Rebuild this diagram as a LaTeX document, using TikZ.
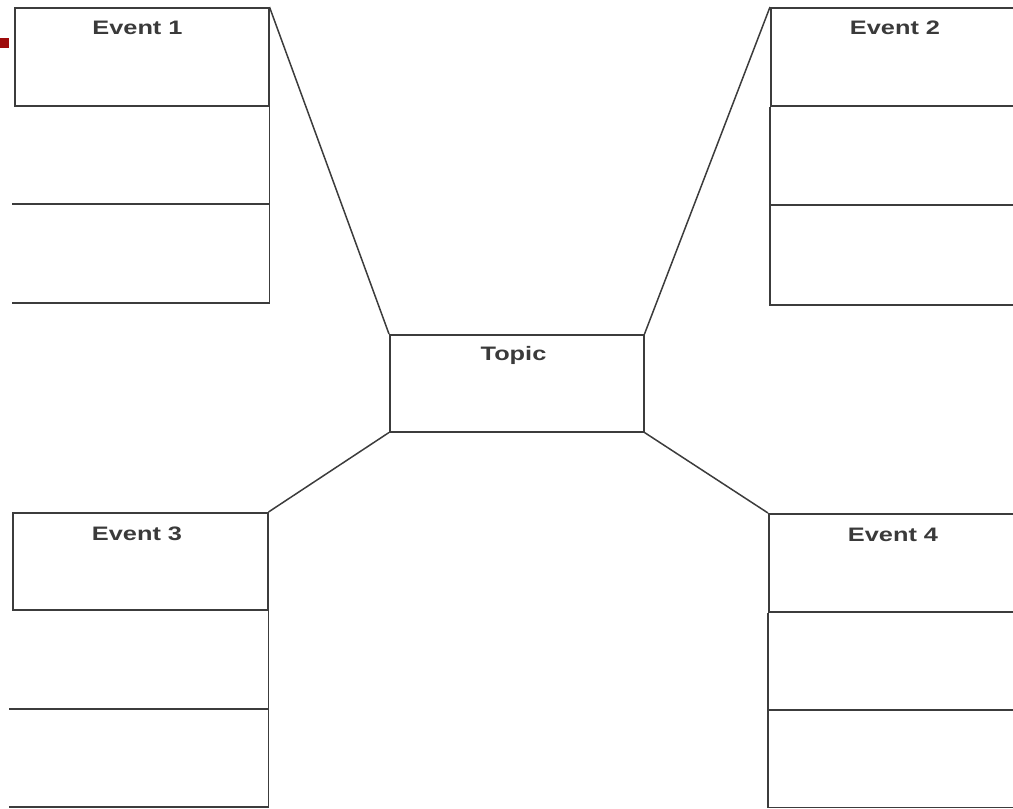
\documentclass[tikz,border=0pt]{standalone}
\usepackage{fontspec}
\setmainfont{Liberation Sans}
\definecolor{ink}{HTML}{3C3C3C}
\definecolor{txt}{HTML}{3A3A3A}
\definecolor{redmark}{HTML}{9E0B0B}
\begin{document}
\begin{tikzpicture}[x=1pt,y=-1pt,
  ln/.style={draw=ink,line width=1.5pt},
  box/.style={ln,rectangle,inner sep=0pt,anchor=north west},
  lbl/.style={text=txt,inner sep=0pt,anchor=base,font=\fontsize{19.5}{22}\selectfont\bfseries}]
\useasboundingbox (0,0) rectangle (1013,809);
\clip (0,0) rectangle (1013,809);
\fill[fill=redmark] (0,38) rectangle (9,48);
% Event 1
\node[box,minimum width=254pt,minimum height=98pt] (e1) at (14,7) {};
\node[lbl] (l1) at (137.5,34.3) {\scalebox{1.3}[1]{Event 1}};
\coordinate (e1a) at (12,204); \coordinate (e1b) at (12,303);
\draw[ln] (e1.south east) -- (e1.east |- e1b) -- (e1b);
\draw[ln] (e1a) -- (e1.east |- e1a);
% Event 2
\node[box,minimum width=260pt,minimum height=98pt] (e2) at (770,7) {};
\node[lbl] (l2) at (895,34.3) {\scalebox{1.3}[1]{Event 2}};
\coordinate (e2a) at (1020,205); \coordinate (e2b) at (1020,305);
\draw[ln] (e2.south west) -- (e2.west |- e2b) -- (e2b);
\draw[ln] (e2a) -- (e2.west |- e2a);
% Topic
\node[box,minimum width=254pt,minimum height=97pt] (tp) at (389,334) {};
\node[lbl] (lt) at (513.5,360) {\scalebox{1.3}[1]{Topic}};
% Event 3
\node[box,minimum width=255pt,minimum height=97pt] (e3) at (12,512) {};
\node[lbl] (l3) at (137,540) {\scalebox{1.3}[1]{Event 3}};
\coordinate (e3a) at (9,709); \coordinate (e3b) at (9,807);
\draw[ln] (e3.south east) -- (e3.east |- e3b) -- (e3b);
\draw[ln] (e3a) -- (e3.east |- e3a);
% Event 4
\node[box,minimum width=260pt,minimum height=98pt] (e4) at (768,513) {};
\node[lbl] (l4) at (893,541) {\scalebox{1.3}[1]{Event 4}};
\coordinate (e4a) at (1020,710); \coordinate (e4b) at (1020,807.5);
\draw[ln] (e4.south west) -- (e4.west |- e4b) -- (e4b);
\draw[ln] (e4a) -- (e4.west |- e4a);
% connectors
\draw[ln] (e1.north east) -- (tp.north west);
\draw[ln] (e2.north west) -- (tp.north east);
\draw[ln] (tp.south west) -- (e3.north east);
\draw[ln] (tp.south east) -- (e4.north west);
\end{tikzpicture}
\end{document}
